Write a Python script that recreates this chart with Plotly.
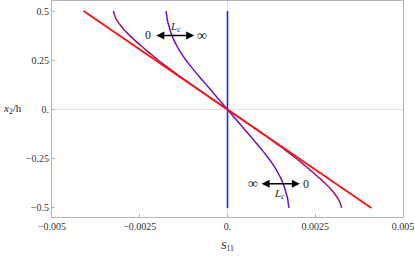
import plotly.graph_objects as go

# Data
y_pts = [0.5, 0.475, 0.45, 0.425, 0.4, 0.375, 0.35, 0.325, 0.3, 0.275, 0.25, 0.225, 0.2, 0.15, 0.1, 0.05, 0.0,
         -0.05, -0.1, -0.15, -0.2, -0.225, -0.25, -0.275, -0.3, -0.325, -0.35, -0.375, -0.4, -0.425, -0.45, -0.475, -0.5]
s11_small_lc = [-0.00325, -0.00321, -0.00314, -0.00304, -0.00292, -0.00278, -0.00263, -0.00247, -0.00231, -0.00214,
                -0.00197, -0.00179, -0.00160, -0.00122, -0.00081, -0.00041, 0.0,
                0.00041, 0.00081, 0.00122, 0.00160, 0.00179, 0.00197, 0.00214, 0.00231, 0.00247, 0.00263,
                0.00278, 0.00292, 0.00304, 0.00314, 0.00321, 0.00325]
s11_mid_lc = [-0.00175, -0.00173, -0.00171, -0.00167, -0.00163, -0.00158, -0.00152, -0.00145, -0.00137, -0.00128,
              -0.00118, -0.00107, -0.00096, -0.00072, -0.00048, -0.00024, 0.0,
              0.00024, 0.00048, 0.00072, 0.00096, 0.00107, 0.00118, 0.00128, 0.00137, 0.00145, 0.00152,
              0.00158, 0.00163, 0.00167, 0.00171, 0.00173, 0.00175]
y_line = [0.5, -0.5]
s11_classical = [-0.0041, 0.0041]
s11_infinite = [0.0, 0.0]

x_ticks = [-0.005, -0.0025, 0.0, 0.0025, 0.005]
x_tick_text = ["\u22120.005", "\u22120.0025", "0.", "0.0025", "0.005"]
y_ticks = [-0.5, -0.25, 0.0, 0.25, 0.5]
y_tick_text = ["\u22120.5", "\u22120.25", "0.", "0.25", "0.5"]

SERIF = "Liberation Serif, DejaVu Serif, serif"

fig = go.Figure()
fig.add_trace(go.Scatter(x=s11_infinite, y=y_line, mode="lines",
                         line=dict(color="#2222ee", width=1.6), showlegend=False))
fig.add_trace(go.Scatter(x=s11_mid_lc, y=y_pts, mode="lines", line_shape="spline",
                         line=dict(color="#6a10cc", width=1.5), showlegend=False))
fig.add_trace(go.Scatter(x=s11_small_lc, y=y_pts, mode="lines", line_shape="spline",
                         line=dict(color="#a0106e", width=1.5), showlegend=False))
fig.add_trace(go.Scatter(x=s11_classical, y=y_line, mode="lines",
                         line=dict(color="#ff1010", width=1.8), showlegend=False))

axis_common = dict(showline=True, mirror=True, linecolor="#b4b4b4", linewidth=1,
                   showgrid=False, zeroline=True, zerolinecolor="#e4e4e4", zerolinewidth=1,
                   ticks="inside", ticklen=3, tickcolor="#b4b4b4", automargin=False,
                   tickfont=dict(family=SERIF, size=10, color="#333333"))

fig.update_layout(
    width=415, height=256,
    margin=dict(l=52, r=12, t=1, b=39),
    paper_bgcolor="white", plot_bgcolor="white",
    xaxis=dict(range=[-0.005, 0.005], tickvals=x_ticks, ticktext=x_tick_text, **axis_common),
    yaxis=dict(range=[-0.546, 0.551], tickvals=y_ticks, ticktext=y_tick_text, **axis_common),
    font=dict(family=SERIF, size=10, color="#222222"),
)

# axis titles
fig.add_annotation(xref="paper", yref="y", x=-0.145, y=0.0, text="<i>x</i><sub>2</sub>/h",
                   showarrow=False, xanchor="left", font=dict(family=SERIF, size=11))
fig.add_annotation(xref="x", yref="paper", x=0.0, y=-0.134, text="<i>S</i><sub>11</sub>",
                   showarrow=False, yanchor="middle", font=dict(family=SERIF, size=11))

# top arrow group
fig.add_annotation(x=-0.00095, y=0.376, ax=-0.00207, ay=0.376, xref="x", yref="y", axref="x", ayref="y",
                   text="", showarrow=True, arrowhead=2, startarrowhead=2, arrowside="end+start",
                   arrowwidth=1.6, arrowsize=1, startarrowsize=1, arrowcolor="black")
fig.add_annotation(x=-0.00226, y=0.376, text="0", showarrow=False, font=dict(family=SERIF, size=12))
fig.add_annotation(x=-0.00072, y=0.376, text="\u221e", showarrow=False, font=dict(family=SERIF, size=14))
fig.add_annotation(x=-0.00148, y=0.42, text="<i>L<sub>c</sub></i>", showarrow=False,
                   font=dict(family=SERIF, size=11))

# bottom arrow group
fig.add_annotation(x=0.00206, y=-0.377, ax=0.00093, ay=-0.377, xref="x", yref="y", axref="x", ayref="y",
                   text="", showarrow=True, arrowhead=2, startarrowhead=2, arrowside="end+start",
                   arrowwidth=1.6, arrowsize=1, startarrowsize=1, arrowcolor="black")
fig.add_annotation(x=0.00072, y=-0.377, text="\u221e", showarrow=False, font=dict(family=SERIF, size=14))
fig.add_annotation(x=0.00224, y=-0.377, text="0", showarrow=False, font=dict(family=SERIF, size=12))
fig.add_annotation(x=0.00148, y=-0.43, text="<i>L<sub>c</sub></i>", showarrow=False,
                   font=dict(family=SERIF, size=11))

fig.write_html("out.html", config={"displayModeBar": False},
               post_script="document.body.style.margin='0px';")
